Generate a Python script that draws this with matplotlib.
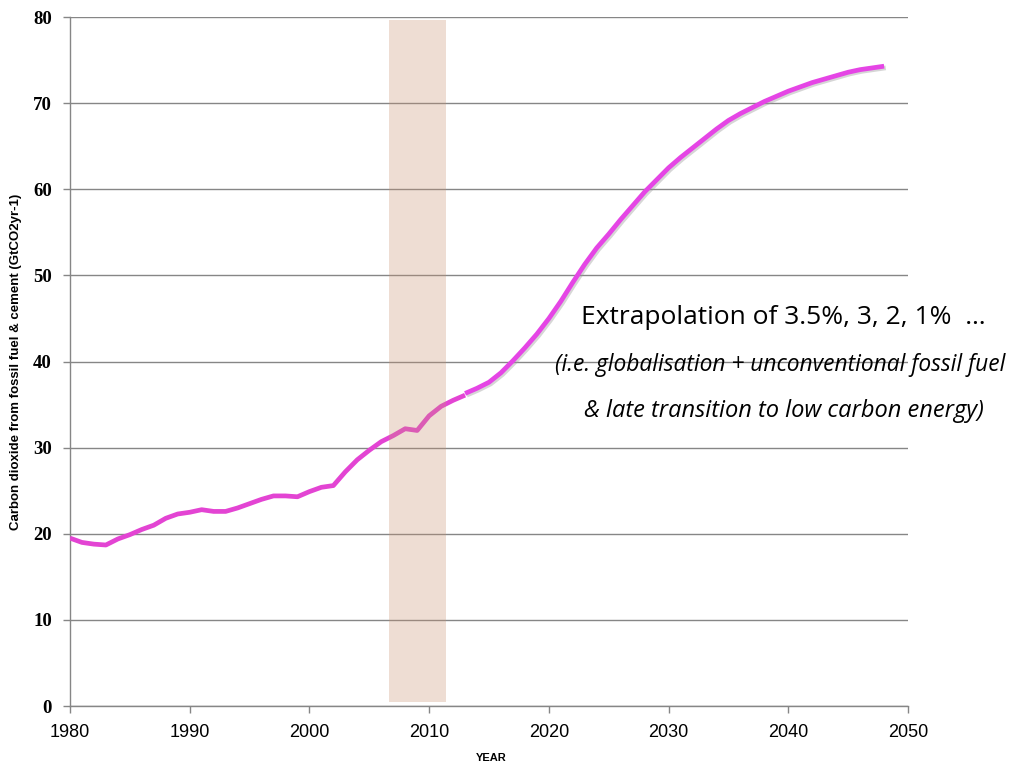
import numpy as np
import matplotlib
matplotlib.use("Agg")
import matplotlib.pyplot as plt
import matplotlib.patheffects as pe

# historical emissions (GtCO2 / yr)
hist_years = list(range(1980, 2014))
hist_vals = [19.5, 19.0, 18.8, 18.7, 19.4, 19.9, 20.5, 21.0, 21.8, 22.3,
             22.5, 22.8, 22.6, 22.6, 23.0, 23.5, 24.0, 24.4, 24.4, 24.3,
             24.9, 25.4, 25.6, 27.2, 28.6, 29.7, 30.7, 31.4, 32.2, 32.0,
             33.7, 34.8, 35.5, 36.1]

# extrapolation
proj_years = list(range(2013, 2049))
proj_vals = [36.3, 36.9, 37.6, 38.7, 40.1, 41.6, 43.2, 45.0, 47.0, 49.2,
             51.3, 53.2, 54.8, 56.5, 58.1, 59.7, 61.1, 62.5, 63.7, 64.8,
             65.9, 67.0, 68.0, 68.8, 69.5, 70.2, 70.8, 71.4, 71.9, 72.4,
             72.8, 73.2, 73.6, 73.9, 74.1, 74.3]

band_x = (2006.65, 2011.4)
band_y = (0.45, 79.7)

xticks = [1980, 1990, 2000, 2010, 2020, 2030, 2040, 2050]
yticks = [0, 10, 20, 30, 40, 50, 60, 70, 80]

fig = plt.figure(figsize=(10.14, 7.78), dpi=100)
ax = fig.add_axes([0.069, 0.0925, 0.8265, 0.8855])

ax.set_xlim(1980, 2050)
ax.set_ylim(0, 80)
ax.set_xticks(xticks)
ax.set_yticks(yticks)
ax.set_xticklabels([str(t) for t in xticks], family="Liberation Sans", fontsize=13)
ax.set_yticklabels([str(t) for t in yticks], family="Liberation Serif", fontsize=13.5,
                   fontweight="bold")
ax.tick_params(axis="both", direction="out", length=5, color="#868686", width=1)
ax.tick_params(axis="x", pad=8)
ax.tick_params(axis="y", pad=8)

ax.grid(True, axis="y", color="#868686", lw=1)
ax.set_axisbelow(True)
for s in ["top", "right"]:
    ax.spines[s].set_visible(False)
for s in ["left", "bottom"]:
    ax.spines[s].set_color("#868686")
    ax.spines[s].set_linewidth(1)

ax.plot(hist_years, hist_vals, color="#E344D3", lw=3.4, solid_capstyle="butt",
        solid_joinstyle="round", zorder=3)
ax.plot(proj_years, proj_vals, color="#E545E5", lw=3.4, solid_capstyle="butt",
        solid_joinstyle="round", zorder=3,
        path_effects=[pe.SimpleLineShadow(offset=(1.2, -1.2), shadow_color="#999999", alpha=0.4),
                      pe.Normal()])

ax.fill_between(band_x, band_y[0], band_y[1], color="#C99170", alpha=0.3, lw=0, zorder=4)

ax.set_xlabel("YEAR", fontsize=8, fontweight="bold", family="Liberation Sans")
ax.xaxis.set_label_coords(0.503, -0.068)
ax.set_ylabel("Carbon dioxide from fossil fuel & cement (GtCO2yr-1)", fontsize=9.5,
              fontweight="bold", family="Liberation Sans")
ax.yaxis.set_label_coords(-0.057, 0.5)

ax.text(2039.6, 45.1, "Extrapolation of 3.5%, 3, 2, 1%  \u2026", fontsize=19,
        family="Open Sans", ha="center", va="center", clip_on=False)
ax.text(2039.3, 39.6, "(i.e. globalisation + unconventional fossil fuel", fontsize=16.4,
        family="Open Sans", style="italic", ha="center", va="center", clip_on=False)
ax.text(2039.6, 34.3, "& late transition to low carbon energy)", fontsize=17,
        family="Open Sans", style="italic", ha="center", va="center", clip_on=False)

fig.savefig("out.png", dpi=100)
